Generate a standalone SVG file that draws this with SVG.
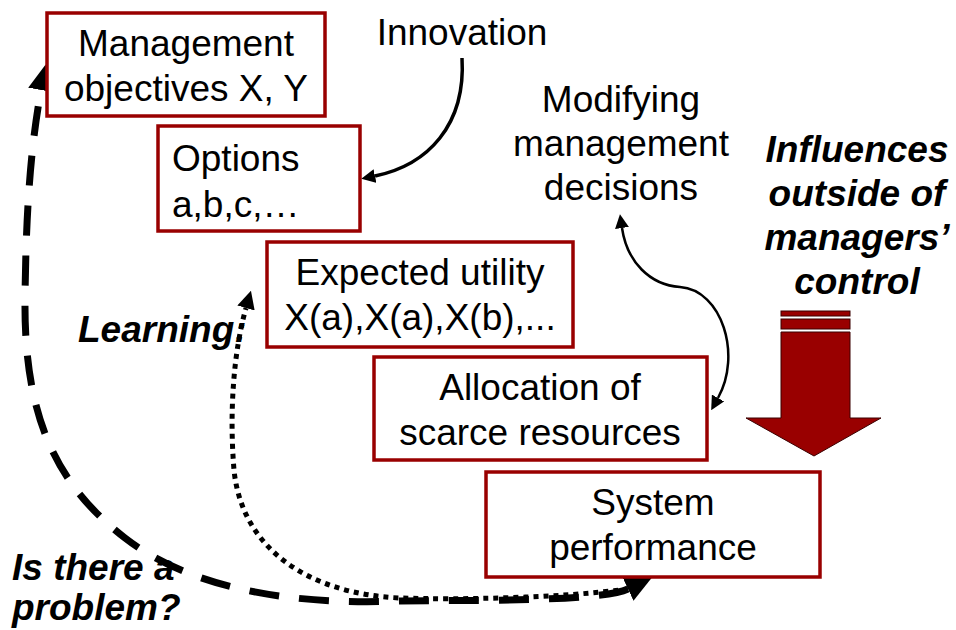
<svg xmlns="http://www.w3.org/2000/svg" width="956" height="630" viewBox="0 0 956 630">
<style>
.box{fill:#fff;stroke:#990000;stroke-width:3.5}
.t{font-family:"Liberation Sans",Arial,sans-serif;font-size:37px;fill:#000;text-anchor:middle}
.bi{font-weight:bold;font-style:italic}
.ln{fill:none;stroke:#000}
</style>
<defs>
<marker id="hBig" markerUnits="userSpaceOnUse" viewBox="0 0 26 26" refX="0" refY="13" markerWidth="26" markerHeight="26" orient="auto-start-reverse"><path d="M0,0 L26,13 L0,26 Z" fill="#000"/></marker>
<marker id="hDot" markerUnits="userSpaceOnUse" viewBox="0 0 18 18" refX="0" refY="9" markerWidth="18" markerHeight="18" orient="auto"><path d="M0,0 L18,9 L0,18 Z" fill="#000"/></marker>
<marker id="hSm" markerUnits="userSpaceOnUse" viewBox="0 0 14 14" refX="0" refY="7" markerWidth="14" markerHeight="14" orient="auto-start-reverse"><path d="M0,0 L14,7 L0,14 Z" fill="#000"/></marker>
</defs>
<g id="connectors">
<path class="ln" d="M628 589 C600 602, 470 600, 400 601 C300 605, 195 592, 125 538 C55 484, 24 415, 25 300 C26 200, 32 140, 41 90" stroke-width="7" stroke-dasharray="30 20" marker-start="url(#hBig)" marker-end="url(#hBig)"/>
<path class="ln" d="M628 589 C560 598, 460 600, 400 598 C310 594, 242 550, 234 470 C229 410, 234 350, 246 308" stroke-width="5" stroke-dasharray="5 5" marker-end="url(#hDot)"/>
<path class="ln" d="M462 58 C466 125, 428 165, 375 176" stroke-width="3.5" marker-end="url(#hSm)"/>
<path class="ln" d="M622 228 C627 262, 650 285, 680 287 C722 290, 742 355, 718 398" stroke-width="2.5" marker-start="url(#hSm)" marker-end="url(#hSm)"/>
</g>
<g id="n-objectives"><rect class="box" x="47" y="13" width="278" height="103"/><text class="t" x="186" y="56">Management</text><text class="t" x="186" y="101">objectives X, Y</text></g>
<g id="n-options"><rect class="box" x="158" y="126" width="202" height="105"/><text class="t" x="172" y="171" style="text-anchor:start">Options</text><text class="t" x="172" y="217" style="text-anchor:start">a,b,c,…</text></g>
<g id="n-utility"><rect class="box" x="267" y="242" width="306" height="105"/><text class="t" x="420" y="285">Expected utility</text><text class="t" x="420" y="330">X(a),X(a),X(b),...</text></g>
<g id="n-allocation"><rect class="box" x="374" y="357" width="333" height="103"/><text class="t" x="540" y="400">Allocation of</text><text class="t" x="540" y="445">scarce resources</text></g>
<g id="n-performance"><rect class="box" x="486" y="472" width="334" height="105"/><text class="t" x="653" y="515">System</text><text class="t" x="653" y="560">performance</text></g>
<g id="n-innovation"><text class="t" x="462" y="45">Innovation</text></g>
<g id="n-modifying"><text class="t" x="621" y="112">Modifying</text><text class="t" x="621" y="156">management</text><text class="t" x="621" y="200">decisions</text></g>
<g id="n-influences"><text class="t bi" x="857" y="162">Influences</text><text class="t bi" x="857" y="206">outside of</text><text class="t bi" x="857" y="250">managers’</text><text class="t bi" x="857" y="294">control</text>
<rect x="781" y="311" width="69" height="5" fill="#990000" stroke="#3a0000" stroke-width="1"/>
<rect x="781" y="319" width="69" height="10" fill="#990000" stroke="#3a0000" stroke-width="1"/>
<path d="M781 332 L850 332 L850 418 L881 418 L814 456 L746 418 L781 418 Z" fill="#990000" stroke="#3a0000" stroke-width="1"/></g>
<g id="n-learning"><text class="t bi" x="78" y="342" style="text-anchor:start">Learning:</text></g>
<g id="n-problem"><text class="t bi" x="12" y="580" style="text-anchor:start">Is there a</text><text class="t bi" x="12" y="620" style="text-anchor:start">problem?</text></g>
</svg>
